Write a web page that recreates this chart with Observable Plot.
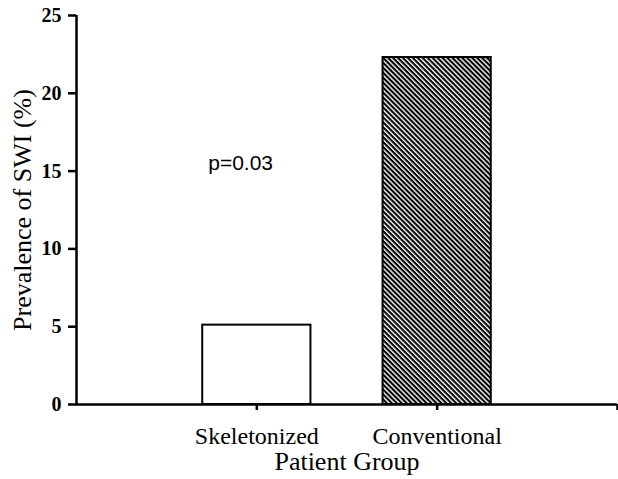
<!DOCTYPE html>
<html>
<head>
<meta charset="utf-8">
<script src="https://cdn.jsdelivr.net/npm/d3@7"></script>
<script src="https://cdn.jsdelivr.net/npm/@observablehq/plot@0.6"></script>
<style>
  html, body { margin: 0; padding: 0; background: #fff; }
  #chart { width: 618px; height: 479px; }
</style>
</head>
<body>
<div id="chart"></div>
<script>
// Data
const groups = ["Skeletonized", "Conventional"];
const prevalence = [5.1, 22.3];
const fills = ["white", "url(#hatch)"];
const yTicks = [0, 5, 10, 15, 20, 25];
const annotation = [{text: "p=0.03", xPos: 0.91, yVal: 15.5}];

const data = groups.map((g, i) => ({group: g, value: prevalence[i], pos: i + 1, fill: fills[i]}));
const xTickPos = [1, 2, 3];
const xTickLabel = p => (p >= 1 && p <= groups.length) ? groups[p - 1] : "";

const chart = Plot.plot({
  width: 618,
  height: 479,
  marginLeft: 76,
  marginRight: 1,
  marginTop: 15,
  marginBottom: 75,
  style: {fontFamily: "'Liberation Serif', 'Times New Roman', serif", background: "white", color: "black"},
  x: {type: "linear", domain: [0, 3]},
  y: {domain: [0, 25]},
  marks: [
    Plot.rectY(data, {
      x1: d => d.pos - 0.3,
      x2: d => d.pos + 0.3,
      y1: 0,
      y2: "value",
      fill: "fill",
      stroke: "black",
      strokeWidth: 2
    }),
    Plot.axisY({ticks: yTicks, tickSize: 8, tickPadding: 7, strokeWidth: 2.5, fontSize: 20, fontWeight: "bold", label: null}),
    Plot.axisX({ticks: xTickPos, tickSize: 6, tickPadding: 16, strokeWidth: 2.5, fontSize: 24, tickFormat: xTickLabel, label: null}),
    Plot.ruleX([0], {strokeWidth: 2.5}),
    Plot.ruleY([0], {strokeWidth: 2.5}),
    Plot.text(annotation, {x: "xPos", y: "yVal", text: "text", fontSize: 21, fontFamily: "'Liberation Sans', Arial, sans-serif", textAnchor: "middle"}),
    Plot.text(["Prevalence of SWI (%)"], {frameAnchor: "left", textAnchor: "middle", rotate: -90, dx: -54, fontSize: 26}),
    Plot.text(["Patient Group"], {frameAnchor: "bottom", dy: 65, fontSize: 26})
  ]
});

const svg = d3.select(chart);
const defs = svg.insert("defs", ":first-child");
const pat = defs.append("pattern")
  .attr("id", "hatch")
  .attr("patternUnits", "userSpaceOnUse")
  .attr("width", 8)
  .attr("height", 3.5)
  .attr("patternTransform", "rotate(45)");
pat.append("rect").attr("width", 8).attr("height", 3.5).attr("fill", "white");
pat.append("rect").attr("width", 8).attr("height", 2.1).attr("fill", "black");

document.getElementById("chart").appendChild(chart);
</script>
</body>
</html>
